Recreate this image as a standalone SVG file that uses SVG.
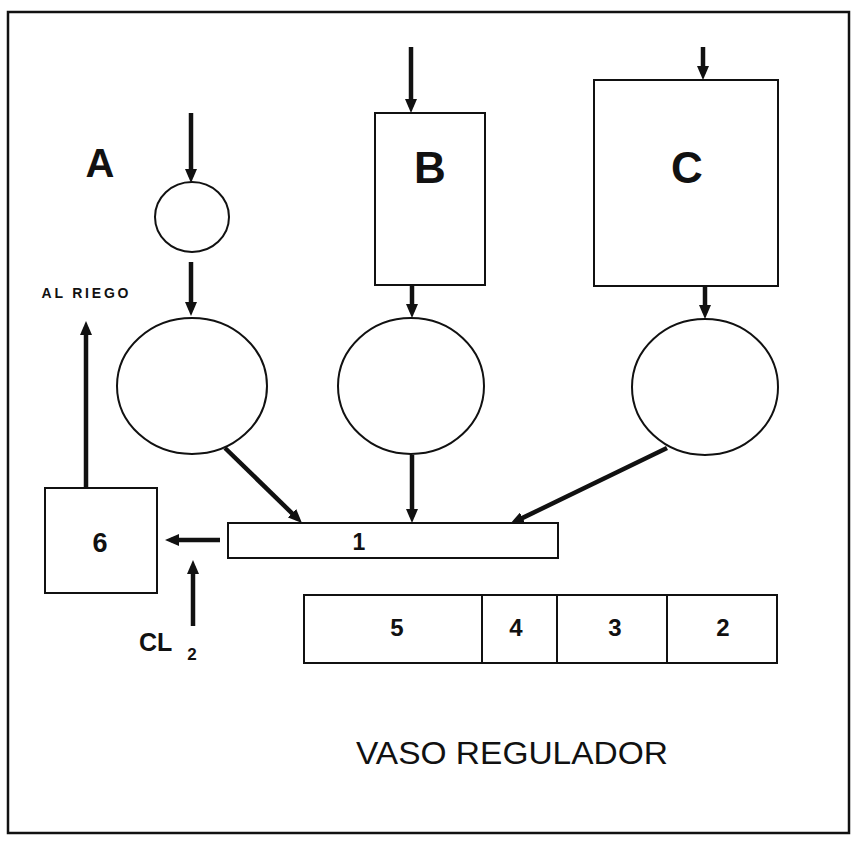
<svg xmlns="http://www.w3.org/2000/svg" width="853" height="842" viewBox="0 0 853 842">
<defs>
<style>
.shape{fill:none;stroke:#111;stroke-width:2}
.frame{fill:#fff;stroke:#111;stroke-width:2.5}
.arr{stroke:#111;stroke-width:4.5;fill:none;marker-end:url(#ah)}
.lbl{font-family:"Liberation Sans",Arial,sans-serif;font-weight:bold;fill:#111;text-anchor:middle}
.reg{font-family:"Liberation Sans",Arial,sans-serif;fill:#111}
</style>
<marker id="ah" markerUnits="userSpaceOnUse" markerWidth="14" markerHeight="12" refX="8" refY="6" orient="auto">
<path d="M0,0 L14,6 L0,12 z" fill="#111"/>
</marker>
</defs>
<rect class="frame" x="8" y="12" width="841" height="821"/>

<g id="nodeA">
<text class="lbl" x="100" y="177" font-size="40">A</text>
</g>
<g id="smallCircleA">
<ellipse class="shape" cx="192" cy="217" rx="37" ry="35"/>
</g>
<g id="circleA">
<ellipse class="shape" cx="192" cy="386" rx="75" ry="68"/>
</g>
<g id="nodeB">
<rect class="shape" x="375" y="113" width="110" height="172"/>
<text class="lbl" x="430" y="183" font-size="44">B</text>
</g>
<g id="circleB">
<ellipse class="shape" cx="411" cy="386" rx="73" ry="68"/>
</g>
<g id="nodeC">
<rect class="shape" x="594" y="80" width="184" height="206"/>
<text class="lbl" x="687" y="183" font-size="44">C</text>
</g>
<g id="circleC">
<ellipse class="shape" cx="705" cy="387" rx="73" ry="68"/>
</g>
<g id="node1">
<rect class="shape" x="228" y="523" width="330" height="35"/>
<text class="lbl" x="359" y="550" font-size="23">1</text>
</g>
<g id="node6">
<rect class="shape" x="45" y="488" width="112" height="105"/>
<text class="lbl" x="100" y="552" font-size="27">6</text>
</g>
<g id="vaso">
<rect class="shape" x="304" y="595" width="473" height="68"/>
<line class="shape" x1="482" y1="595" x2="482" y2="663"/>
<line class="shape" x1="557" y1="595" x2="557" y2="663"/>
<line class="shape" x1="667" y1="595" x2="667" y2="663"/>
<text class="lbl" x="397" y="636" font-size="24">5</text>
<text class="lbl" x="516" y="636" font-size="24">4</text>
<text class="lbl" x="615" y="636" font-size="24">3</text>
<text class="lbl" x="723" y="636" font-size="24">2</text>
<text class="reg" x="356" y="764" font-size="31" textLength="312" lengthAdjust="spacingAndGlyphs">VASO REGULADOR</text>
</g>
<g id="labels">
<text class="lbl" x="85" y="298" font-size="14" textLength="87" lengthAdjust="spacing">AL RIEGO</text>
<text class="lbl" x="139" y="651" font-size="25" style="text-anchor:start">CL</text>
<text class="lbl" x="192" y="660" font-size="17">2</text>
</g>

<g id="connectors">
<line class="arr" x1="191" y1="113" x2="191" y2="177"/>
<line class="arr" x1="191" y1="262" x2="191" y2="310"/>
<line class="arr" x1="411" y1="47" x2="411" y2="107"/>
<line class="arr" x1="412" y1="286" x2="412" y2="312"/>
<line class="arr" x1="703" y1="47" x2="703" y2="74"/>
<line class="arr" x1="705" y1="287" x2="705" y2="313"/>
<line class="arr" x1="225" y1="448" x2="297.7" y2="518.8"/>
<line class="arr" x1="412" y1="455" x2="412" y2="517"/>
<line class="arr" x1="667" y1="448" x2="515.4" y2="521.4"/>
<line class="arr" x1="220" y1="540" x2="171" y2="540"/>
<line class="arr" x1="193" y1="626" x2="193" y2="566"/>
<line class="arr" x1="86" y1="488" x2="86" y2="327"/>
</g>
</svg>
